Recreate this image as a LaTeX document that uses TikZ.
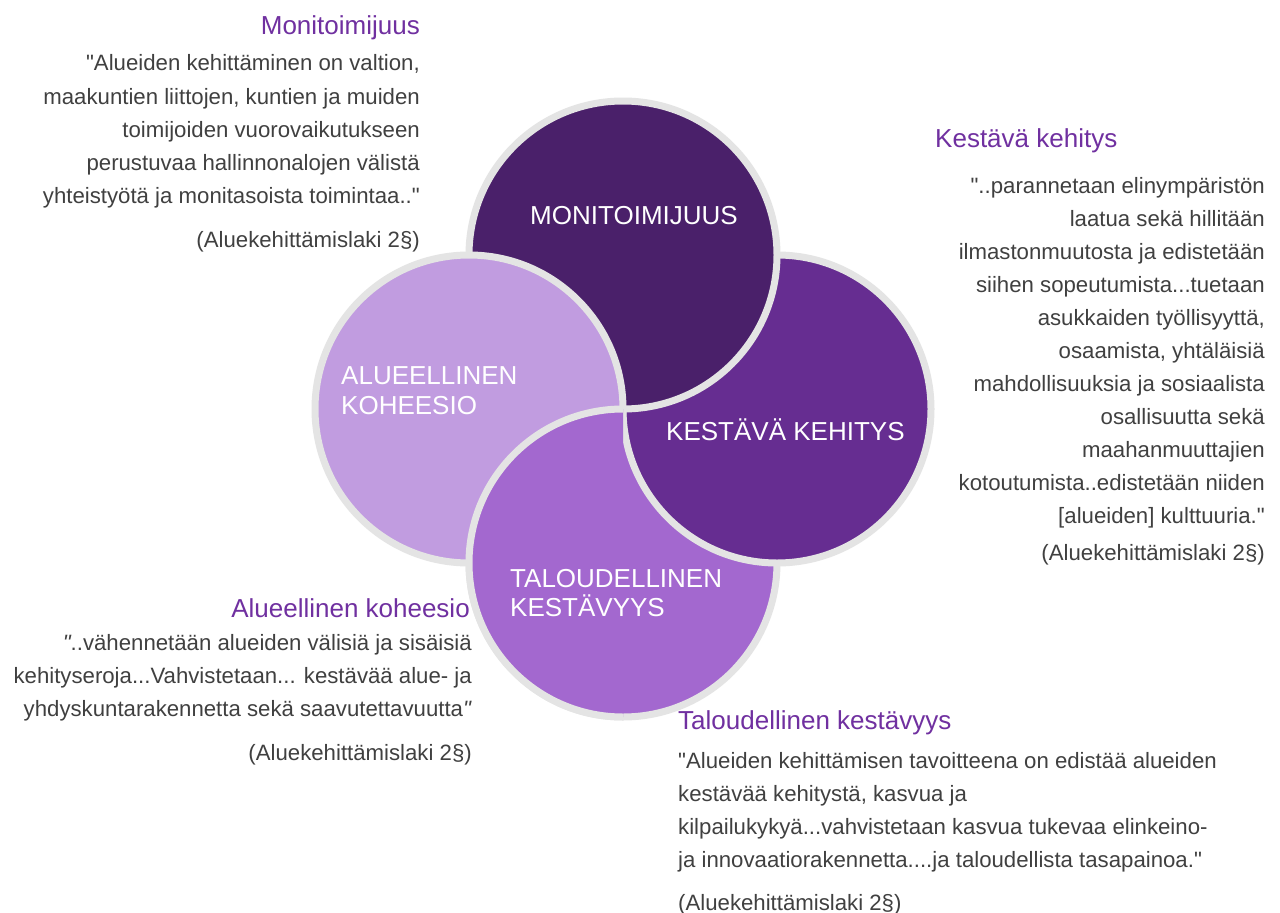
\documentclass[tikz,border=0pt]{standalone}
\usepackage{fontspec}
\newfontfamily\plainsans{Liberation Sans}
\definecolor{mcol}{RGB}{74,32,106}
\definecolor{kcol}{RGB}{102,45,145}
\definecolor{tcol}{RGB}{163,104,207}
\definecolor{acol}{RGB}{193,156,224}
\definecolor{ringgray}{RGB}{228,228,228}
\definecolor{titlepurple}{RGB}{112,48,160}
\definecolor{bodygray}{RGB}{64,64,64}
\begin{document}
\begin{tikzpicture}[x=1pt,y=-1pt,
  circ/.style={draw=ringgray, line width=7pt},
  lbl/.style={text=white, font=\plainsans\fontsize{26}{29}\selectfont, inner sep=0pt, anchor=base west},
  ttl/.style={text=titlepurple, font=\plainsans\fontsize{26}{31}\selectfont, inner sep=0pt},
  body/.style={text=bodygray, font=\plainsans\fontsize{22.2}{33}\selectfont, inner sep=0pt},
  bodyr/.style={body, anchor=base east},
  bodyl/.style={body, anchor=base west}]
\useasboundingbox (0,0) rectangle (1280,913);
\fill[white] (0,0) rectangle (1280,913);
% circle centres
\coordinate (cM) at (623,255);
\coordinate (cK) at (777,409);
\coordinate (cT) at (623,563);
\coordinate (cA) at (469,409);
% cyclic overlap: K over T, M over K, A over M, T over A
\draw[circ, fill=tcol] (cT) circle[radius=154pt];
\draw[circ, fill=kcol] (cK) circle[radius=154pt];
\draw[circ, fill=mcol] (cM) circle[radius=154pt];
\draw[circ, fill=acol] (cA) circle[radius=154pt];
\begin{scope}
  \clip (0,0) rectangle (623,913);
  \draw[circ, fill=tcol] (cT) circle[radius=154pt];
\end{scope}
% circle labels
\node[lbl, anchor=base] (lm) at (634,224) {MONITOIMIJUUS};
\node[lbl] (la1) at (341,384) {ALUEELLINEN};
\node[lbl] (la2) at (341,414) {KOHEESIO};
\node[lbl] (lk) at (666,440) {KESTÄVÄ KEHITYS};
\node[lbl] (lt1) at (510,587) {TALOUDELLINEN};
\node[lbl] (lt2) at (510,616) {KESTÄVYYS};
% Monitoimijuus block
\node[ttl, anchor=base east] (monT) at (420,34) {Monitoimijuus};
\node[bodyr] (mon0) at (420,70) {"Alueiden kehittäminen on valtion,};
\node[bodyr] (mon1) at (420,104) {maakuntien liittojen, kuntien ja muiden};
\node[bodyr] (mon2) at (420,137) {toimijoiden vuorovaikutukseen};
\node[bodyr] (mon3) at (420,170) {perustuvaa hallinnonalojen välistä};
\node[bodyr] (mon4) at (420,203) {yhteistyötä ja monitasoista toimintaa.."};
\node[bodyr] (monR) at (420,247) {(Aluekehittämislaki 2§)};
% Kestava kehitys block
\node[ttl, anchor=base west] (kesT) at (935,147) {Kestävä kehitys};
\node[bodyr] (kes0) at (1265,193) {"..parannetaan elinympäristön};
\node[bodyr] (kes1) at (1265,226) {laatua sekä hillitään};
\node[bodyr] (kes2) at (1265,259) {ilmastonmuutosta ja edistetään};
\node[bodyr] (kes3) at (1265,292) {siihen sopeutumista...tuetaan};
\node[bodyr] (kes4) at (1265,325) {asukkaiden työllisyyttä,};
\node[bodyr] (kes5) at (1265,358) {osaamista, yhtäläisiä};
\node[bodyr] (kes6) at (1265,391) {mahdollisuuksia ja sosiaalista};
\node[bodyr] (kes7) at (1265,424) {osallisuutta sekä};
\node[bodyr] (kes8) at (1265,457) {maahanmuuttajien};
\node[bodyr] (kes9) at (1265,490) {kotoutumista..edistetään niiden};
\node[bodyr] (kes10) at (1265,523) {[alueiden] kulttuuria."};
\node[bodyr] (kesR) at (1265,560) {(Aluekehittämislaki 2§)};
% Alueellinen koheesio block
\node[ttl, anchor=base east] (aluT) at (470,617) {Alueellinen koheesio};
\node[bodyr] (alu0) at (472,650) {\textit{"}..vähennetään alueiden välisiä ja sisäisiä};
\node[bodyr] (alu1) at (472,683) {kehityseroja...Vahvistetaan... kestävää alue- ja};
\node[bodyr] (alu2) at (472,716) {yhdyskuntarakennetta sekä saavutettavuutta\textit{"}};
\node[bodyr] (aluR) at (472,760) {(Aluekehittämislaki 2§)};
% Taloudellinen kestavyys block
\node[ttl, anchor=base west] (talT) at (678,729) {Taloudellinen kestävyys};
\node[bodyl] (tal0) at (678,768) {"Alueiden kehittämisen tavoitteena on edistää alueiden};
\node[bodyl] (tal1) at (678,801) {kestävää kehitystä, kasvua ja};
\node[bodyl] (tal2) at (678,834) {kilpailukykyä...vahvistetaan kasvua tukevaa elinkeino-};
\node[bodyl] (tal3) at (678,867) {ja innovaatiorakennetta....ja taloudellista tasapainoa."};
\node[bodyl] (talR) at (678,910) {(Aluekehittämislaki 2§)};
\end{tikzpicture}
\end{document}
